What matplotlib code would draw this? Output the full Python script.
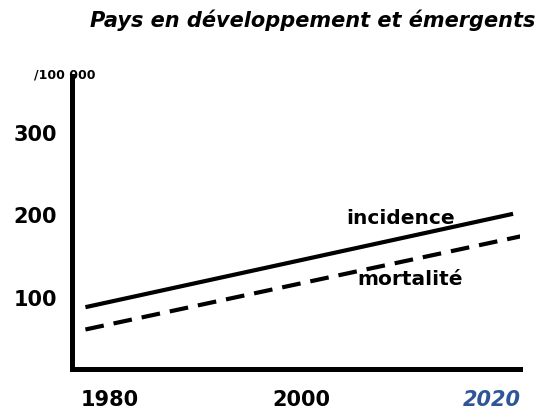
import matplotlib
matplotlib.use("Agg")
import matplotlib.pyplot as plt

# ------------------ Données ------------------
TITRE = "Pays en développement et émergents"
UNITE = "/100 000"
ANNEES_TICKS = [1980, 2000, 2020]
Y_TICKS = [100, 200, 300]

ANNEES = [1977.4, 2022.2]
INCIDENCE = [89, 202]
ANNEES_MORT = [1977.4, 2023.1]
MORTALITE = [62, 175]
# ---------------------------------------------

plt.rcParams["font.family"] = ["DejaVu Sans"]

fig = plt.figure(figsize=(5.5, 4.12), dpi=100)
ax = fig.add_axes([0.131, 0.104, 0.814, 0.712])

ax.plot(ANNEES, INCIDENCE, color="black", lw=3.0, solid_capstyle="butt")
ax.plot(ANNEES_MORT, MORTALITE, color="black", lw=3.0, dashes=(4.5, 2.4),
        dash_capstyle="butt")

ax.set_xlim(1976.0, 2022.9)
ax.set_ylim(14, 369)

for s in ["top", "right"]:
    ax.spines[s].set_visible(False)
for s in ["left", "bottom"]:
    ax.spines[s].set_linewidth(3.6)
    ax.spines[s].set_capstyle("projecting")

ax.set_yticks(Y_TICKS)
ax.set_yticklabels([str(v) for v in Y_TICKS], fontsize=15, fontweight="bold")
ax.set_xticks(ANNEES_TICKS)
ax.set_xticklabels([str(v) for v in ANNEES_TICKS], fontsize=15, fontweight="bold")
ax.tick_params(axis="y", length=0, pad=11)
ax.tick_params(axis="x", length=0, pad=15)
lab = ax.get_xticklabels()[-1]
lab.set_color("#2f5597")
lab.set_fontstyle("italic")

ax.text(2010.4, 196, "incidence", fontsize=14.5, fontweight="bold", ha="center", va="center")
ax.text(2011.4, 123, "mortalité", fontsize=14.5, fontweight="bold", ha="center", va="center")

fig.text(0.569, 0.952, TITRE, fontsize=15, fontweight="bold", fontstyle="italic",
         ha="center", va="center")
fig.text(0.118, 0.818, UNITE, fontsize=9, fontweight="bold", ha="center", va="center")

fig.savefig("out.png", dpi=100)
